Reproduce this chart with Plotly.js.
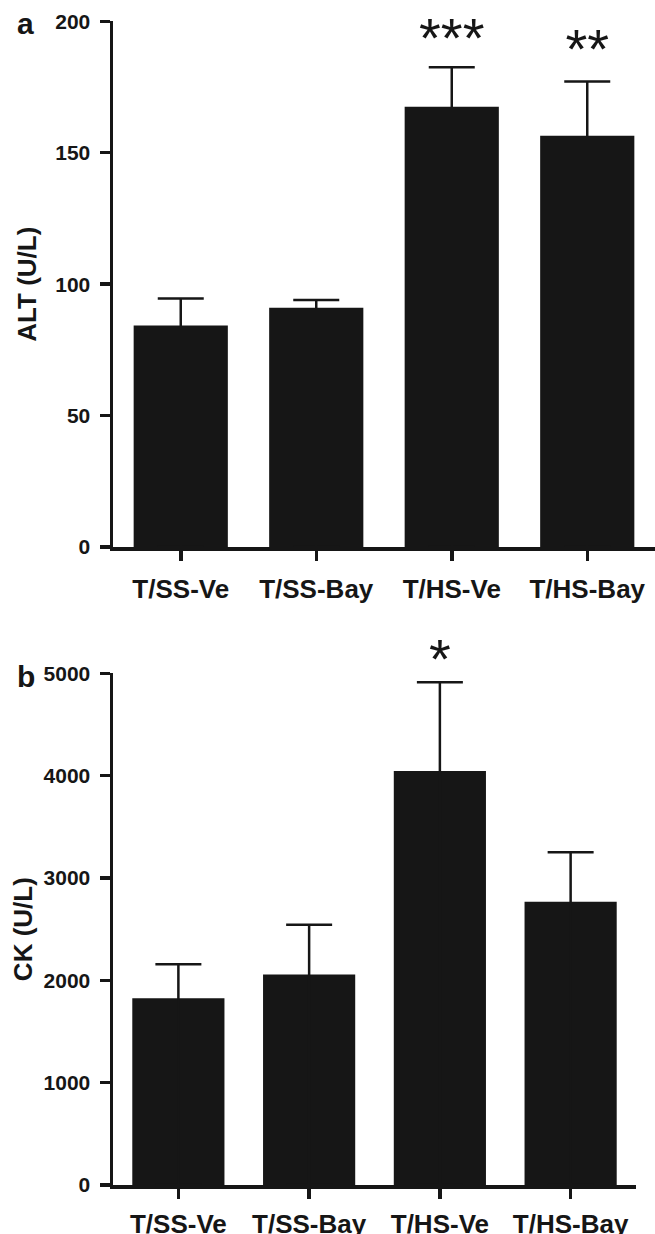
<!DOCTYPE html>
<html>
<head>
<meta charset="utf-8">
<script src="https://cdn.plot.ly/plotly-3.0.1.min.js"></script>
<style>html,body{margin:0;padding:0;background:#fff;}#chart{width:655px;height:1234px;}</style>
</head>
<body>
<div id="chart"></div>
<script>
var categories = ["T/SS-Ve", "T/SS-Bay", "T/HS-Ve", "T/HS-Bay"];
var altMean = [84.3, 91.0, 167.5, 156.5];
var altErr = [10.2, 3.0, 15.0, 20.6];
var ckMean = [1825, 2057, 4046, 2767];
var ckErr = [332, 485, 866, 485];
var altStarCats = ["T/HS-Ve", "T/HS-Bay"];
var altStars = ["***", "**"];
var altStarY = [191.7, 187.7];
var ckStarCats = ["T/HS-Ve"];
var ckStars = ["*"];
var ckStarY = [4820];

var FONT = "Liberation Sans, Arial, Helvetica, sans-serif";
var INK = "#161616";
var W = 655, H = 1234;
function px2py(p) { return 1 - p / H; }

function barTrace(y, err, xa, ya, w) {
  return {
    type: "bar", x: categories, y: y, xaxis: xa, yaxis: ya,
    width: w, marker: {color: INK, line: {width: 0}},
    error_y: {type: "data", array: err, arrayminus: y, symmetric: false,
              color: INK, thickness: 2.5, width: 23},
    hoverinfo: "none"
  };
}
function starTrace(cats, txt, y, xa, ya, pos) {
  return {
    type: "scatter", mode: "text", x: cats, y: y, text: txt, xaxis: xa, yaxis: ya,
    textposition: pos, cliponaxis: false,
    textfont: {family: FONT, size: 56, color: INK}, hoverinfo: "none"
  };
}

var traces = [
  barTrace(altMean, altErr, "x", "y", 0.695),
  barTrace(ckMean, ckErr, "x2", "y2", 0.705),
  starTrace(altStarCats, altStars, altStarY, "x", "y", "middle center"),
  starTrace(ckStarCats, ckStars, ckStarY, "x2", "y2", "top center")
];

var axCommon = {
  showline: true, linecolor: INK, linewidth: 3.5,
  ticks: "outside", ticklen: 10, tickwidth: 3.5, tickcolor: INK,
  showgrid: false, zeroline: false, fixedrange: true
};
function merge(a, b) { var o = {}; for (var k in a) o[k] = a[k]; for (var k2 in b) o[k2] = b[k2]; return o; }

var annotations = [
  {text: "a", xref: "paper", yref: "paper", x: 25 / W, y: px2py(24), xanchor: "center", yanchor: "middle",
   showarrow: false, font: {family: FONT, size: 30, weight: "bold", color: INK}},
  {text: "b", xref: "paper", yref: "paper", x: 26 / W, y: px2py(676), xanchor: "center", yanchor: "middle",
   showarrow: false, font: {family: FONT, size: 30, weight: "bold", color: INK}}
];

var layout = {
  width: W, height: H,
  margin: {l: 0, r: 0, t: 0, b: 0},
  paper_bgcolor: "#fff", plot_bgcolor: "#fff",
  showlegend: false, barmode: "overlay",
  font: {family: FONT, color: INK},
  xaxis: merge(axCommon, {
    domain: [113 / W, 1], range: [-0.5, 3.5], anchor: "y",
    categoryorder: "array", categoryarray: categories,
    tickfont: {family: FONT, size: 26, weight: "bold", color: INK}, ticklabelstandoff: 6
  }),
  yaxis: merge(axCommon, {
    domain: [px2py(547), px2py(21.3)], range: [0, 200], anchor: "x",
    tickvals: [0, 50, 100, 150, 200], ticktext: ["0", "50", "100", "150", "200"],
    tickfont: {family: FONT, size: 21, weight: "bold", color: INK}, ticklabelstandoff: 5,
    title: {text: "ALT (U/L)", font: {family: FONT, size: 26, weight: "bold", color: INK}, standoff: 12}
  }),
  xaxis2: merge(axCommon, {
    domain: [113 / W, 636 / W], range: [-0.5, 3.5], anchor: "y2",
    categoryorder: "array", categoryarray: categories,
    tickfont: {family: FONT, size: 26, weight: "bold", color: INK}, ticklabelstandoff: 3
  }),
  yaxis2: merge(axCommon, {
    domain: [px2py(1185), px2py(673.3)], range: [0, 5000], anchor: "x2",
    tickvals: [0, 1000, 2000, 3000, 4000, 5000], ticktext: ["0", "1000", "2000", "3000", "4000", "5000"],
    tickfont: {family: FONT, size: 21, weight: "bold", color: INK}, ticklabelstandoff: 5,
    title: {text: "CK (U/L)", font: {family: FONT, size: 26, weight: "bold", color: INK}, standoff: 4}
  }),
  annotations: annotations
};

Plotly.newPlot("chart", traces, layout, {staticPlot: true, displayModeBar: false});
</script>
</body>
</html>
